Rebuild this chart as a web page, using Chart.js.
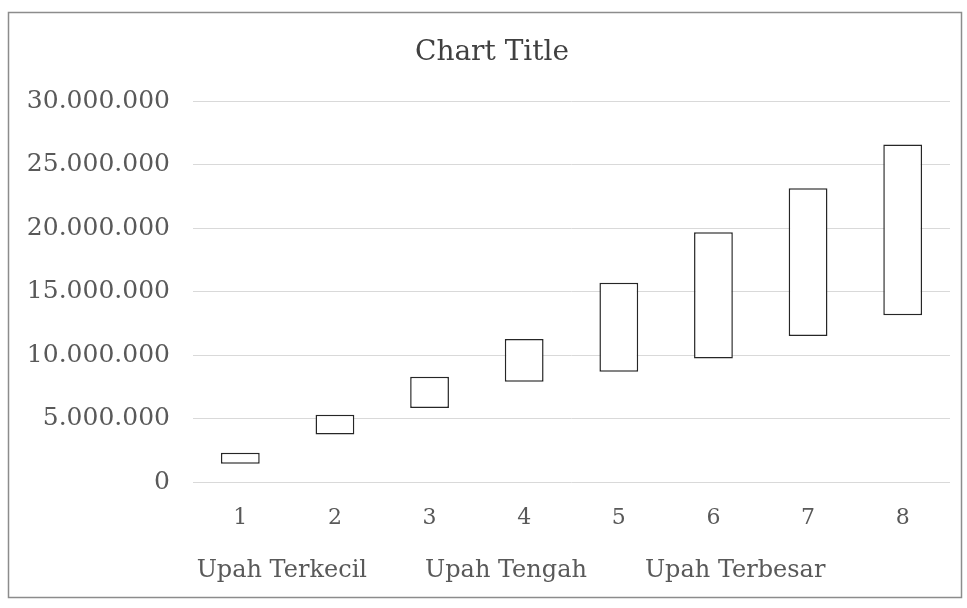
<!DOCTYPE html>
<html>
<head>
<meta charset="utf-8">
<script src="https://cdn.jsdelivr.net/npm/chart.js@4"></script>
<style>
  html, body { margin: 0; padding: 0; background: #fff; }
  #wrap { width: 967px; height: 608px; position: relative; }
</style>
</head>
<body>
<div id="wrap"><canvas id="c" width="967" height="608"></canvas></div>
<script>
// Data
const categories = ["1", "2", "3", "4", "5", "6", "7", "8"];
const upahTerkecil = [1440000, 3740000, 5840000, 7900000, 8690000, 9730000, 11510000, 13140000];
const upahTerbesar = [2310000, 5290000, 8300000, 11260000, 15700000, 19680000, 23150000, 26600000];
const upahTengah = []; // middle series is not drawn in the picture; values not readable
const seriesNames = ["Upah Terkecil", "Upah Tengah", "Upah Terbesar"];
const yTicks = [0, 5000000, 10000000, 15000000, 20000000, 25000000, 30000000];

const fmt = v => v === 0 ? "0" : v.toLocaleString("de-DE");

const borderPlugin = {
  id: "frame",
  beforeDraw(chart) {
    const ctx = chart.ctx;
    ctx.save();
    ctx.fillStyle = "#fff";
    ctx.fillRect(0, 0, chart.width, chart.height);
    ctx.strokeStyle = "#8c8c8c";
    ctx.lineWidth = 1.5;
    ctx.strokeRect(8.5, 12.5, 953, 585);
    ctx.restore();
  }
};

new Chart(document.getElementById("c"), {
  data: {
    labels: categories,
    datasets: [
      { type: "line", label: seriesNames[0], data: upahTerkecil, showLine: false, pointRadius: 0,
        borderColor: "transparent", backgroundColor: "transparent", borderWidth: 0 },
      { type: "line", label: seriesNames[1], data: upahTengah, showLine: false, pointRadius: 0,
        borderColor: "transparent", backgroundColor: "transparent", borderWidth: 0 },
      { type: "line", label: seriesNames[2], data: upahTerbesar, showLine: false, pointRadius: 0,
        borderColor: "transparent", backgroundColor: "transparent", borderWidth: 0 },
      { type: "bar", label: "updown", data: upahTerkecil.map((lo, i) => [lo, upahTerbesar[i]]),
        backgroundColor: "#ffffff", borderColor: "#262626", borderWidth: 1.5, borderSkipped: false,
        categoryPercentage: 1.0, barPercentage: 0.41 }
    ]
  },
  options: {
    responsive: false,
    animation: false,
    layout: { padding: { left: 26, right: 9, top: 0, bottom: 15 } },
    plugins: {
      tooltip: { enabled: false },
      title: {
        display: true, text: "Chart Title", color: "#404040",
        font: { family: "DejaVu Serif", size: 28, weight: "normal" },
        padding: { top: 36, bottom: 31.7 }
      },
      legend: {
        position: "bottom",
        labels: {
          filter: item => item.text !== "updown",
          color: "#595959", boxWidth: 26, boxHeight: 12, padding: 20,
          font: { family: "DejaVu Serif", size: 24 }
        }
      }
    },
    scales: {
      x: {
        grid: { display: false, drawTicks: false },
        border: { display: false },
        ticks: { color: "#595959", padding: 23, font: { family: "DejaVu Serif", size: 22 } },
        afterFit(s) { s.height = 57; }
      },
      y: {
        min: 0, max: 30000000,
        afterBuildTicks(s) { s.ticks = yTicks.map(v => ({ value: v })); },
        grid: { color: "#d9d9d9", lineWidth: 1, drawTicks: false },
        border: { display: false },
        ticks: { color: "#595959", padding: 23, callback: v => fmt(v),
                 font: { family: "DejaVu Serif", size: 25 } },
        afterFit(s) { s.width = 167; }
      },
      yRight: {
        position: "right", min: 0, max: 30000000,
        grid: { display: false, drawTicks: false },
        border: { display: false },
        ticks: { display: false },
        afterFit(s) { s.width = 8; }
      }
    }
  },
  plugins: [borderPlugin]
});
</script>
</body>
</html>
